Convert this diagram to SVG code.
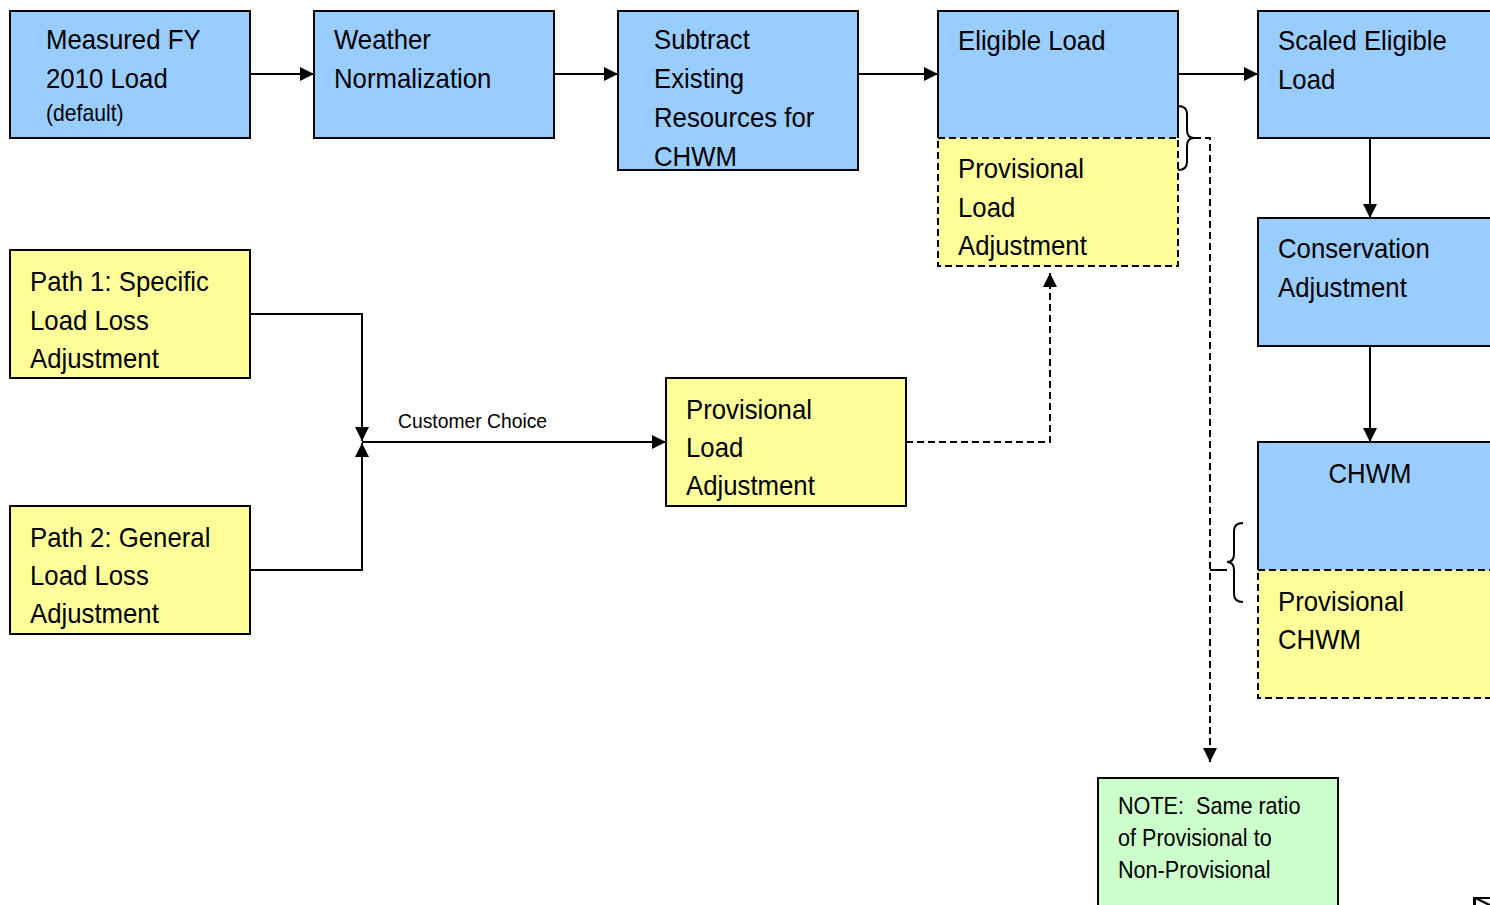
<svg xmlns="http://www.w3.org/2000/svg" width="1490" height="905" viewBox="0 0 1490 905">
  <style>
    .blue { fill: #99ccff; stroke: #000; stroke-width: 2; }
    .yellow { fill: #ffff99; stroke: #000; stroke-width: 2; }
    .green { fill: #ccffcc; stroke: #000; stroke-width: 2; }
    .dash { stroke-dasharray: 7 4; }
    .fill-blue { fill: #99ccff; stroke: none; }
    .edge { fill: none; stroke: #000; stroke-width: 2; }
    text { font-family: "Liberation Sans", Arial, sans-serif; font-size: 28px; fill: #000; }
    .small { font-size: 23px; }
    .label { font-size: 21px; }
    .note { font-size: 24px; }
  </style>
  <defs>
    <marker id="arrow" markerUnits="userSpaceOnUse" markerWidth="15" markerHeight="15" refX="14" refY="7.5" orient="auto">
      <path d="M0,0.5 L14,7.5 L0,14.5 z" fill="#000"/>
    </marker>
  </defs>

  <rect width="1490" height="905" fill="#fff"/>

  <!-- top row -->
  <g id="measured">
    <rect class="blue" x="10" y="11" width="240" height="127"/>
    <g transform="translate(46,0) scale(0.92,1)">
      <text x="0" y="49">Measured FY</text>
      <text x="0" y="88">2010 Load</text>
      <text class="small" x="0" y="121">(default)</text>
    </g>
  </g>
  <g id="weather">
    <rect class="blue" x="314" y="11" width="240" height="127"/>
    <g transform="translate(334,0) scale(0.92,1)">
      <text x="0" y="49">Weather</text>
      <text x="0" y="88">Normalization</text>
    </g>
  </g>
  <g id="subtract">
    <rect class="blue" x="618" y="11" width="240" height="159"/>
    <g transform="translate(654,0) scale(0.92,1)">
      <text x="0" y="49">Subtract</text>
      <text x="0" y="88">Existing</text>
      <text x="0" y="127">Resources for</text>
      <text x="0" y="166">CHWM</text>
    </g>
  </g>
  <g id="eligible">
    <rect class="fill-blue" x="938" y="11" width="240" height="127"/>
    <path class="edge" d="M938,138 V11 H1178 V138"/>
    <rect class="yellow dash" x="938" y="138" width="240" height="128"/>
    <g transform="translate(958,0) scale(0.92,1)">
      <text x="0" y="50">Eligible Load</text>
      <text x="0" y="178">Provisional</text>
      <text x="0" y="217">Load</text>
      <text x="0" y="255">Adjustment</text>
    </g>
  </g>
  <g id="scaled">
    <rect class="blue" x="1258" y="11" width="240" height="127"/>
    <g transform="translate(1278,0) scale(0.92,1)">
      <text x="0" y="50">Scaled Eligible</text>
      <text x="0" y="89">Load</text>
    </g>
  </g>
  <g id="conservation">
    <rect class="blue" x="1258" y="218" width="240" height="128"/>
    <g transform="translate(1278,0) scale(0.92,1)">
      <text x="0" y="258">Conservation</text>
      <text x="0" y="297">Adjustment</text>
    </g>
  </g>
  <g id="chwm">
    <rect class="fill-blue" x="1258" y="442" width="240" height="128"/>
    <path class="edge" d="M1258,570 V442 H1498"/>
    <rect class="yellow dash" x="1258" y="570" width="240" height="128"/>
    <g transform="translate(1370,0) scale(0.92,1)">
      <text x="0" y="483" text-anchor="middle">CHWM</text>
    </g>
    <g transform="translate(1278,0) scale(0.92,1)">
      <text x="0" y="611">Provisional</text>
      <text x="0" y="649">CHWM</text>
    </g>
  </g>

  <!-- load loss paths -->
  <g id="path1">
    <rect class="yellow" x="10" y="250" width="240" height="128"/>
    <g transform="translate(30,0) scale(0.92,1)">
      <text x="0" y="291">Path 1: Specific</text>
      <text x="0" y="330">Load Loss</text>
      <text x="0" y="368">Adjustment</text>
    </g>
  </g>
  <g id="path2">
    <rect class="yellow" x="10" y="506" width="240" height="128"/>
    <g transform="translate(30,0) scale(0.92,1)">
      <text x="0" y="547">Path 2: General</text>
      <text x="0" y="585">Load Loss</text>
      <text x="0" y="623">Adjustment</text>
    </g>
  </g>
  <g id="provisional">
    <rect class="yellow" x="666" y="378" width="240" height="128"/>
    <g transform="translate(686,0) scale(0.92,1)">
      <text x="0" y="419">Provisional</text>
      <text x="0" y="457">Load</text>
      <text x="0" y="495">Adjustment</text>
    </g>
  </g>
  <g id="note">
    <rect class="green" x="1098" y="778" width="240" height="140"/>
    <g transform="translate(1118,0) scale(0.9,1)">
      <text class="note" x="0" y="814" xml:space="preserve">NOTE:  Same ratio</text>
      <text class="note" x="0" y="846">of Provisional to</text>
      <text class="note" x="0" y="878">Non-Provisional</text>
    </g>
  </g>

  <!-- connectors -->
  <g id="connectors">
    <line class="edge" x1="250" y1="74" x2="314" y2="74" marker-end="url(#arrow)"/>
    <line class="edge" x1="554" y1="74" x2="618" y2="74" marker-end="url(#arrow)"/>
    <line class="edge" x1="858" y1="74" x2="938" y2="74" marker-end="url(#arrow)"/>
    <line class="edge" x1="1178" y1="74" x2="1258" y2="74" marker-end="url(#arrow)"/>
    <line class="edge" x1="1370" y1="138" x2="1370" y2="218" marker-end="url(#arrow)"/>
    <line class="edge" x1="1370" y1="346" x2="1370" y2="442" marker-end="url(#arrow)"/>

    <polyline class="edge" points="250,314 362,314 362,441" marker-end="url(#arrow)"/>
    <polyline class="edge" points="250,570 362,570 362,443" marker-end="url(#arrow)"/>
    <line class="edge" x1="362" y1="442" x2="666" y2="442" marker-end="url(#arrow)"/>
    <g transform="translate(398,0) scale(0.92,1)">
      <text class="label" x="0" y="428">Customer Choice</text>
    </g>

    <polyline class="edge dash" points="906,442 1050,442 1050,273" marker-end="url(#arrow)"/>

    <!-- brace grouping eligible + provisional load -->
    <path class="edge" stroke-width="1.6" d="M1178,106 Q1187,106 1187,114 V130 Q1187,138 1194,138 Q1187,138 1187,146 V162 Q1187,170 1178,170"/>
    <polyline class="edge dash" points="1194,138 1210,138 1210,762" marker-end="url(#arrow)"/>

    <!-- brace grouping CHWM + provisional CHWM -->
    <path class="edge" stroke-width="1.6" d="M1243,523 Q1234,523 1234,531 V554 Q1234,562 1227,562 Q1234,562 1234,570 V594 Q1234,602 1243,602"/>
    <line class="edge" x1="1210" y1="570" x2="1227" y2="570"/>
  </g>

  <!-- clipped corner mark -->
  <path d="M1473,897 H1490 V899 H1480 L1490,904 V905 H1487 L1476,899.5 V905 H1473 Z" fill="#000"/>
</svg>
